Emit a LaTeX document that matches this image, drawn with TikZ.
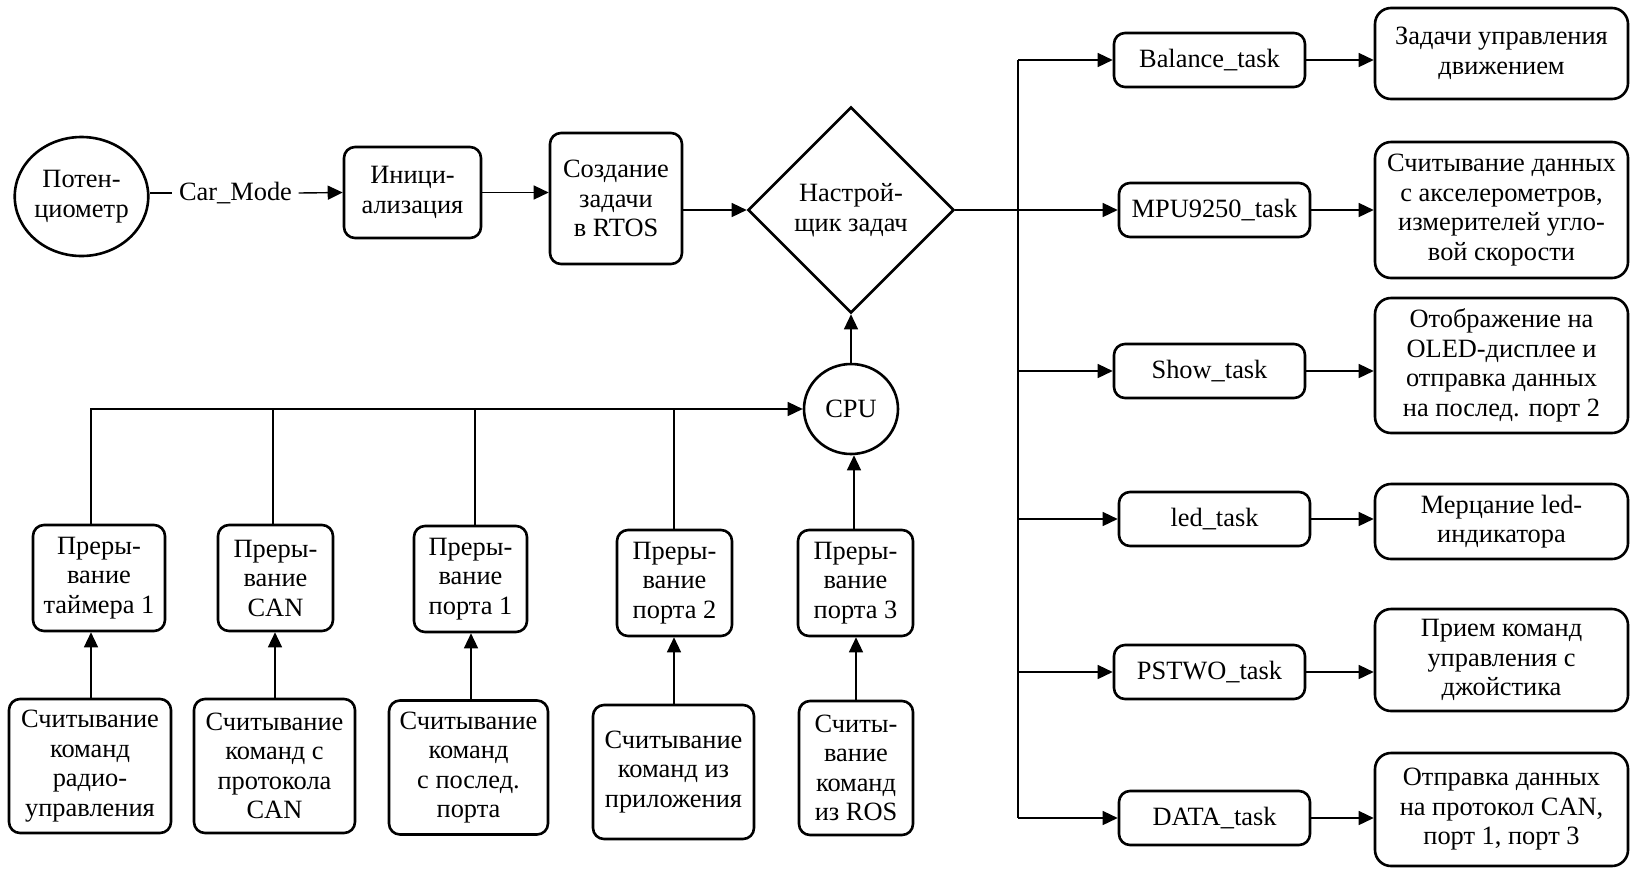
\documentclass[tikz,border=0pt]{standalone}
\usepackage{fontspec}
\setmainfont{Liberation Serif}
\usetikzlibrary{arrows.meta,shapes.geometric}
\begin{document}
\begin{tikzpicture}[x=1pt,y=-1pt,
  font=\fontsize{26.4}{29.5}\selectfont,
  every node/.style={inner sep=0pt, align=center},
  bx/.style 2 args={draw, line width=2.6pt, rounded corners=11pt, minimum width=#1, minimum height=#2},
  bigbx/.style={draw, line width=2.6pt, rounded corners=16pt, minimum width=253pt, minimum height=#1},
  ell/.style 2 args={draw, ellipse, line width=2.6pt, minimum width=#1, minimum height=#2},
  conn/.style={line width=1.4pt},
  arr/.style={conn, -{Triangle[length=15pt,width=14pt]}}
]
\useasboundingbox (0,0) rectangle (1630,868);

% top row
\node[ell={127}{119}] (pot) at (81.5,196.5) {Потен-\\циометр};
\node[inner xsep=6.5pt] (cm) at (235.5,193) {Car\_Mode};
\node[bx={137}{91}] (init) at (412.5,192.5) {Иници-\\ализация};
\node[bx={132}{131}] (create) at (616,198.5) {Создание\\задачи\\в RTOS};
\node[draw, diamond, aspect=1, line width=2.6pt, minimum width=206pt, minimum height=206pt] (dia) at (851,210) {Настрой-\\щик задач};

% tasks
\coordinate (trunk) at (1018,0);
\node[bx={191}{54}] (bal) at (1209.5,60) {Balance\_task};
\node[bx={191}{54}] (mpu) at (1214.5,210) {MPU9250\_task};
\node[bx={191}{54}] (show) at (1209.5,371) {Show\_task};
\node[bx={191}{54}] (led) at (1214.5,519) {led\_task};
\node[bx={191}{54}] (pstwo) at (1209.5,672) {PSTWO\_task};
\node[bx={191}{54}] (data) at (1214.5,818) {DATA\_task};

% descriptions
\node[bigbx=91] (d1) at (1501.5,53.5) {Задачи управления\\движением};
\node[bigbx=136] (d2) at (1501.5,210) {Считывание данных\\с акселерометров,\\измерителей угло-\\вой скорости};
\node[bigbx=135] (d3) at (1501.5,365.5) {Отображение на\\OLED-дисплее и\\отправка данных\\на послед. порт 2};
\node[bigbx=75] (d4) at (1501.5,521.5) {Мерцание led-\\индикатора};
\node[bigbx=102] (d5) at (1501.5,660) {Прием команд\\управления с\\джойстика};
\node[bigbx=113] (d6) at (1501.5,809.5) {Отправка данных\\на протокол CAN,\\порт 1, порт 3};

% CPU and interrupts
\node[ell={94}{90}] (cpu) at (851,409) {CPU};
\coordinate (b1) at (91,409);
\coordinate (b2) at (273,409);
\coordinate (b3) at (475,409);
\coordinate (b4) at (674,409);
\node[bx={132}{106}] (i1) at (99,578) {Преры-\\вание\\таймера 1};
\node[bx={115}{106}] (i2) at (275.5,578) {Преры-\\вание\\CAN};
\node[bx={113}{106}] (i3) at (470.5,579) {Преры-\\вание\\порта 1};
\node[bx={115}{106}] (i4) at (674.5,583) {Преры-\\вание\\порта 2};
\node[bx={115}{106}] (i5) at (855.5,583) {Преры-\\вание\\порта 3};

\node[bx={162}{134}] (s1) at (90,766) {Считывание\\команд\\радио-\\управления};
\node[bx={161}{134}] (s2) at (274.5,766) {Считывание\\команд с\\протокола\\CAN};
\node[bx={159}{134}] (s3) at (468.5,767.5) {Считывание\\команд\\с послед.\\порта};
\node[bx={161}{134}] (s4) at (673.5,772) {Считывание\\команд из\\приложения};
\node[bx={114}{134}] (s5) at (856,768) {Считы-\\вание\\команд\\из ROS};

% connectors top row
\draw[conn] (pot.east |- cm.west) -- (cm.west);
\draw[arr] (cm.east) -- (init.west);
\draw[arr] (init.east) -- (init.east -| create.west);
\draw[arr] (create.east |- dia.west) -- (dia.west);
\draw[arr] (dia.east) -- (mpu.west);

% trunk
\draw[conn] (bal.west -| trunk) -- (data.west -| trunk);
\foreach \t in {bal,show,led,pstwo,data}
  \draw[arr] (\t.west -| trunk) -- (\t.west);
\draw[arr] (bal.east) -- (bal.east -| d1.west);
\draw[arr] (mpu.east) -- (mpu.east -| d2.west);
\draw[arr] (show.east) -- (show.east -| d3.west);
\draw[arr] (led.east) -- (led.east -| d4.west);
\draw[arr] (pstwo.east) -- (pstwo.east -| d5.west);
\draw[arr] (data.east) -- (data.east -| d6.west);

% CPU
\draw[arr] (cpu.north) -- (dia.south);
\draw[arr] (i1.north -| b1) |- (cpu.west);
\draw[conn] (i2.north -| b2) -- (b2);
\draw[conn] (i3.north -| b3) -- (b3);
\draw[conn] (i4.north -| b4) -- (b4);
\draw[arr] (i5.north -| 854,0) -- (cpu.south -| 854,0);

\draw[arr] (s1.north -| b1) -- (i1.south -| b1);
\draw[arr] (s2.north -| 275,0) -- (i2.south -| 275,0);
\draw[arr] (s3.north -| 471,0) -- (i3.south -| 471,0);
\draw[arr] (s4.north -| b4) -- (i4.south -| b4);
\draw[arr] (s5.north) -- (i5.south -| s5.north);
\end{tikzpicture}
\end{document}
